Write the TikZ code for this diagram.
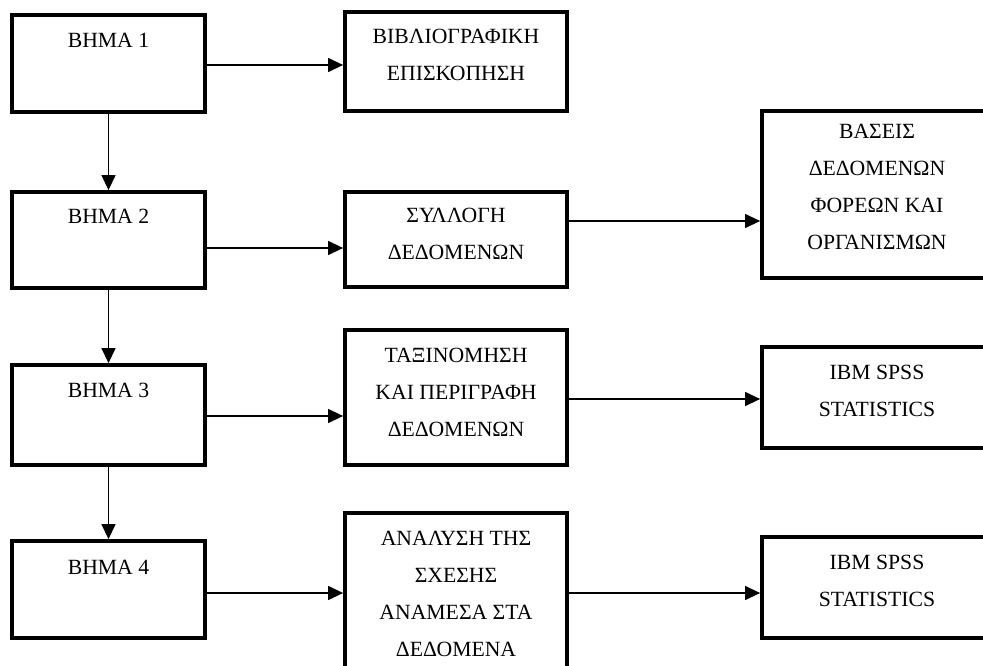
\documentclass[tikz,border=0pt]{standalone}
\usepackage{fontspec}
\setmainfont{Liberation Serif}
\usetikzlibrary{arrows.meta,positioning}
\tikzset{
  stepbox/.style={draw, line width=3.8pt, inner sep=0pt, minimum width=193pt},
  taskbox/.style={draw, line width=3.8pt, inner sep=0pt, minimum width=222pt},
  toolbox/.style={draw, line width=3.8pt, inner sep=0pt, minimum width=230pt},
  boxtext/.style={inner sep=0pt, align=center, font=\fontsize{21.7}{37}\selectfont},
  arr/.style={-{Triangle[length=15pt,width=14pt]}, line width=1.3pt}
}
\begin{document}
\begin{tikzpicture}[x=1pt, y=-1pt, line join=miter]
  \useasboundingbox (0,0) rectangle (983,666);
  \clip (0,0) rectangle (983,666);
  % steps
  \node[stepbox, minimum height=97pt]  (b1) at (108.5,63.5) {};
  \node[stepbox, minimum height=96pt]  (b2) at (108.5,240) {};
  \node[stepbox, minimum height=100pt] (b3) at (108.5,415) {};
  \node[stepbox, minimum height=97pt]  (b4) at (108.5,589.5) {};
  \node[boxtext, below=19.6pt of b1.north] (t1) {ΒΗΜΑ 1};
  \node[boxtext, below=18.8pt of b2.north] (t2) {ΒΗΜΑ 2};
  \node[boxtext, below=19.6pt of b3.north] (t3) {ΒΗΜΑ 3};
  \node[boxtext, below=20.6pt of b4.north] (t4) {ΒΗΜΑ 4};
  % tasks
  \node[taskbox, minimum height=99pt]  (c1) at (456,61.5) {};
  \node[taskbox, minimum height=95pt]  (c2) at (456,239.5) {};
  \node[taskbox, minimum height=135pt] (c3) at (456,397.5) {};
  \node[taskbox, minimum height=200pt] (c4) at (456,613) {};
  \node[boxtext, below=18.8pt of c1.north] (u1) {ΒΙΒΛΙΟΓΡΑΦΙΚΗ\\ΕΠΙΣΚΟΠΗΣΗ};
  \node[boxtext, below=17.8pt of c2.north] (u2) {ΣΥΛΛΟΓΗ\\ΔΕΔΟΜΕΝΩΝ};
  \node[boxtext, below=19.8pt of c3.north] (u3) {ΤΑΞΙΝΟΜΗΣΗ\\ΚΑΙ ΠΕΡΙΓΡΑΦΗ\\ΔΕΔΟΜΕΝΩΝ};
  \node[boxtext, below=19.8pt of c4.north] (u4) {ΑΝΑΛΥΣΗ ΤΗΣ\\ΣΧΕΣΗΣ\\ΑΝΑΜΕΣΑ ΣΤΑ\\ΔΕΔΟΜΕΝΑ};
  % sources and tools
  \node[toolbox, minimum height=167pt] (d2) at (877,194.5) {};
  \node[toolbox, minimum height=101pt] (d3) at (877,397.5) {};
  \node[toolbox, minimum height=101pt] (d4) at (877,587.5) {};
  \node[boxtext, below=14.8pt of d2.north] (v2) {ΒΑΣΕΙΣ\\ΔΕΔΟΜΕΝΩΝ\\ΦΟΡΕΩΝ ΚΑΙ\\ΟΡΓΑΝΙΣΜΩΝ};
  \node[boxtext, below=19.8pt of d3.north] (v3) {IBM SPSS\\STATISTICS};
  \node[boxtext, below=19.8pt of d4.north] (v4) {IBM SPSS\\STATISTICS};
  % connectors
  \draw[arr] (b1) -- (b2);
  \draw[arr] (b2) -- (b3);
  \draw[arr] (b3) -- (b4);
  \draw[arr] (b1.east |- 0,65)  -- (c1.west |- 0,65);
  \draw[arr] (b2.east |- 0,248) -- (c2.west |- 0,248);
  \draw[arr] (b3.east |- 0,416) -- (c3.west |- 0,416);
  \draw[arr] (b4.east |- 0,593) -- (c4.west |- 0,593);
  \draw[arr] (c2.east |- 0,221) -- (d2.west |- 0,221);
  \draw[arr] (c3.east |- 0,399) -- (d3.west |- 0,399);
  \draw[arr] (c4.east |- 0,593) -- (d4.west |- 0,593);
\end{tikzpicture}
\end{document}
